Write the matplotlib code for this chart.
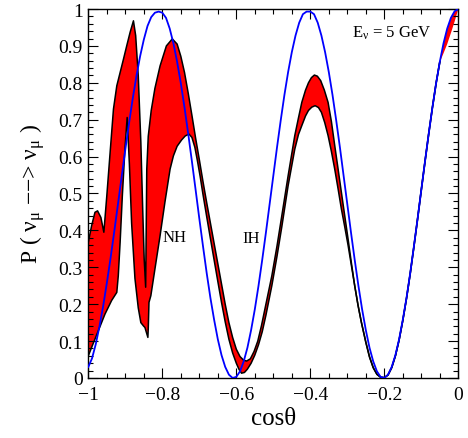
import numpy as np
import matplotlib
matplotlib.use("Agg")
import matplotlib.pyplot as plt
from matplotlib.ticker import MultipleLocator

plt.rcParams['font.family'] = ['Liberation Serif', 'DejaVu Serif']
plt.rcParams['mathtext.fontset'] = 'custom'
plt.rcParams['mathtext.rm'] = 'Liberation Serif'
plt.rcParams['mathtext.it'] = 'Liberation Serif:italic'

# ---------------- data ----------------
# IH curve (blue), cos(theta) from -1.00 to 0.00 in steps of 0.01
ih_cos = np.round(np.linspace(-1.0, 0.0, 101), 2)
ih_prob = [0.030, 0.053, 0.091, 0.139, 0.194, 0.257, 0.324, 0.396, 0.470, 0.545,
           0.619, 0.690, 0.757, 0.818, 0.872, 0.917, 0.954, 0.978, 0.990, 0.993,
           0.990, 0.976, 0.947, 0.907, 0.857, 0.799, 0.733, 0.662, 0.587, 0.510,
           0.432, 0.357, 0.284, 0.217, 0.158, 0.105, 0.062, 0.030, 0.009, 0.000,
           0.003, 0.018, 0.045, 0.082, 0.130, 0.186, 0.250, 0.320, 0.394, 0.471,
           0.548, 0.625, 0.698, 0.767, 0.829, 0.883, 0.928, 0.963, 0.986, 0.993,
           0.993, 0.986, 0.963, 0.928, 0.883, 0.829, 0.767, 0.698, 0.625, 0.548,
           0.471, 0.394, 0.320, 0.250, 0.186, 0.130, 0.082, 0.045, 0.018, 0.003,
           0.000, 0.009, 0.030, 0.062, 0.105, 0.158, 0.217, 0.284, 0.357, 0.432,
           0.510, 0.587, 0.662, 0.733, 0.799, 0.857, 0.907, 0.947, 0.976, 0.994,
           1.000]

# NH band: upper outline (own part)
nh_up_cos = [-1.000, -0.991, -0.982, -0.975, -0.966, -0.958, -0.950, -0.941, -0.932, -0.923,
             -0.914, -0.905, -0.896, -0.887, -0.878, -0.872, -0.865, -0.858, -0.853, -0.849,
             -0.845, -0.842, -0.838, -0.830, -0.820, -0.806, -0.789, -0.773, -0.760, -0.750,
             -0.740, -0.730, -0.720, -0.710, -0.700, -0.690, -0.680, -0.670, -0.660, -0.650,
             -0.640, -0.630, -0.620, -0.610, -0.600, -0.590, -0.580, -0.572, -0.562, -0.552,
             -0.542, -0.532, -0.520, -0.504, -0.490, -0.477, -0.460, -0.442, -0.432, -0.423,
             -0.413, -0.405, -0.397, -0.389, -0.381, -0.372, -0.362, -0.352, -0.343, -0.334,
             -0.325, -0.316, -0.307, -0.298, -0.289]
nh_up_prob = [0.368, 0.413, 0.449, 0.453, 0.435, 0.395, 0.494, 0.612, 0.729, 0.792,
              0.828, 0.864, 0.901, 0.937, 0.968, 0.928, 0.819, 0.639, 0.458, 0.322,
              0.246, 0.566, 0.655, 0.725, 0.785, 0.846, 0.900, 0.919, 0.905, 0.872,
              0.828, 0.772, 0.712, 0.650, 0.592, 0.532, 0.475, 0.420, 0.365, 0.310,
              0.255, 0.200, 0.150, 0.110, 0.078, 0.058, 0.048, 0.046, 0.052, 0.072,
              0.100, 0.142, 0.200, 0.277, 0.358, 0.440, 0.548, 0.657, 0.705, 0.747,
              0.780, 0.800, 0.814, 0.821, 0.818, 0.806, 0.780, 0.747, 0.695, 0.630,
              0.567, 0.503, 0.440, 0.377, 0.312]

# NH band: lower outline (own part)
nh_lo_cos = [-1.000, -0.991, -0.973, -0.955, -0.937, -0.923, -0.919, -0.914, -0.908, -0.901,
             -0.895, -0.889, -0.883, -0.874, -0.865, -0.858, -0.850, -0.847, -0.839, -0.838,
             -0.836, -0.831, -0.820, -0.806, -0.793, -0.779, -0.770, -0.760, -0.748, -0.738,
             -0.728, -0.720, -0.712, -0.705, -0.698, -0.690, -0.680, -0.670, -0.660, -0.650,
             -0.640, -0.630, -0.620, -0.610, -0.600, -0.593, -0.586, -0.578, -0.570, -0.560,
             -0.550, -0.540, -0.530, -0.520, -0.504, -0.490, -0.477, -0.460, -0.442, -0.432,
             -0.423, -0.413, -0.405, -0.396, -0.387, -0.378, -0.370, -0.361, -0.352, -0.343,
             -0.334, -0.325, -0.316, -0.307, -0.298, -0.289]
nh_lo_prob = [0.060, 0.083, 0.128, 0.173, 0.210, 0.232, 0.277, 0.368, 0.494, 0.621,
              0.706, 0.580, 0.420, 0.270, 0.190, 0.150, 0.140, 0.137, 0.110, 0.133,
              0.205, 0.223, 0.295, 0.386, 0.476, 0.566, 0.602, 0.628, 0.645, 0.656,
              0.661, 0.652, 0.625, 0.588, 0.548, 0.497, 0.437, 0.378, 0.320, 0.262,
              0.205, 0.152, 0.105, 0.068, 0.040, 0.024, 0.013, 0.015, 0.024, 0.040,
              0.062, 0.090, 0.125, 0.170, 0.250, 0.330, 0.410, 0.521, 0.620, 0.660,
              0.684, 0.710, 0.725, 0.734, 0.738, 0.733, 0.720, 0.692, 0.657, 0.614,
              0.566, 0.513, 0.458, 0.410, 0.360, 0.305]

# NH: part where both edges coincide
nh_mid_cos = [-0.280, -0.271, -0.262, -0.250, -0.240, -0.230, -0.220, -0.210, -0.200, -0.190,
              -0.180, -0.170, -0.160, -0.150, -0.140, -0.130, -0.120, -0.110, -0.100, -0.090,
              -0.080, -0.070, -0.060, -0.050]
nh_mid_prob = [0.250, 0.197, 0.151, 0.097, 0.057, 0.028, 0.010, 0.002, 0.001, 0.008,
               0.028, 0.060, 0.103, 0.156, 0.216, 0.283, 0.356, 0.432, 0.510, 0.587,
               0.662, 0.733, 0.799, 0.857]

# NH near cos = 0 (thin red sliver beside the blue curve)
nh_end_up_cos = [-0.040, -0.030, -0.020, -0.010, 0.000]
nh_end_up_prob = [0.907, 0.947, 0.976, 0.994, 1.000]
nh_end_lo_cos = [-0.045, -0.040, -0.030, -0.020, -0.010, 0.000]
nh_end_lo_prob = [0.868, 0.880, 0.905, 0.935, 0.966, 1.000]

x_ticks = [-1.0, -0.8, -0.6, -0.4, -0.2, 0.0]
x_tick_labels = ["\u22121", "\u22120.8", "\u22120.6", "\u22120.4", "\u22120.2", "0"]
y_ticks = [0.0, 0.1, 0.2, 0.3, 0.4, 0.5, 0.6, 0.7, 0.8, 0.9, 1.0]
y_tick_labels = ["0", "0.1", "0.2", "0.3", "0.4", "0.5", "0.6", "0.7", "0.8", "0.9", "1"]

# ---------------- figure ----------------
fig = plt.figure(figsize=(4.68, 4.39), dpi=100)
ax = fig.add_axes([0.1887, 0.1367, 0.7906, 0.8405])

up_c = np.concatenate([nh_up_cos, nh_mid_cos, nh_end_up_cos])
up_p = np.concatenate([nh_up_prob, nh_mid_prob, nh_end_up_prob])
lo_c = np.concatenate([nh_lo_cos, nh_mid_cos, nh_end_lo_cos])
lo_p = np.concatenate([nh_lo_prob, nh_mid_prob, nh_end_lo_prob])

ax.fill(np.concatenate([up_c, lo_c[::-1]]), np.concatenate([up_p, lo_p[::-1]]),
        facecolor='#ff0000', edgecolor='none', zorder=1)
edge_up_c = np.concatenate([nh_up_cos, nh_mid_cos])
edge_up_p = np.concatenate([nh_up_prob, nh_mid_prob])
edge_lo_c = np.concatenate([nh_lo_cos, nh_mid_cos])
edge_lo_p = np.concatenate([nh_lo_prob, nh_mid_prob])
ax.plot(edge_up_c, edge_up_p, color='black', lw=1.1, zorder=2)
ax.plot(edge_lo_c, edge_lo_p, color='black', lw=1.1, zorder=2)
ax.plot(ih_cos, ih_prob, color='#0000ff', lw=1.3, zorder=3)

ax.text(-0.768, 0.382, "NH", fontsize=12, ha='center', va='center')
ax.text(-0.559, 0.379, "IH", fontsize=12, ha='center', va='center')
ax.text(-0.180, 0.936, r"E$_{\mathrm{\nu}}$ = 5 GeV", fontsize=12, ha='center', va='center')

ax.set_xlim(-1, 0)
ax.set_ylim(0, 1)
ax.set_xticks(x_ticks)
ax.set_xticklabels(x_tick_labels)
ax.set_yticks(y_ticks)
ax.set_yticklabels(y_tick_labels)
ax.xaxis.set_minor_locator(MultipleLocator(0.05))
ax.yaxis.set_minor_locator(MultipleLocator(0.02))
ax.tick_params(which='both', direction='in', top=True, right=True, width=0.8, labelsize=14)
ax.tick_params(which='major', length=7)
ax.tick_params(which='minor', length=3.6)
ax.tick_params(axis='y', pad=4)
ax.tick_params(axis='x', pad=6)
for s in ax.spines.values():
    s.set_linewidth(1.0)

ax.set_xlabel("cos\u03b8", fontsize=18, labelpad=3)
ax.set_ylabel(r"P ( $\mathrm{\nu}_{\mathrm{\mu}}$ \u2212\u2212> $\mathrm{\nu}_{\mathrm{\mu}}$ )".replace("\\u2212", "\u2212"),
              fontsize=17, labelpad=8)

fig.savefig("out.png", dpi=100)
